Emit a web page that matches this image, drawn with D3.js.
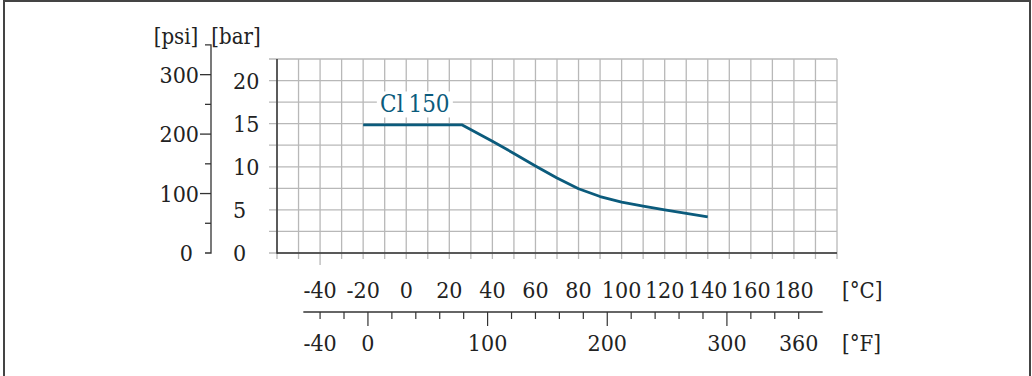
<!DOCTYPE html>
<html><head><meta charset="utf-8">
<script src="https://cdn.jsdelivr.net/npm/d3@7"></script>
<style>
html,body{margin:0;padding:0;background:#fff;}
svg{display:block;}
text{font-family:"DejaVu Serif Condensed","DejaVu Serif",serif;font-stretch:condensed;fill:#222;}
</style></head>
<body>
<svg id="chart" width="1032" height="376"></svg>
<script>
// ---- data ----
const seriesName = "Cl 150";
const tempC = [-20, 26, 40, 50, 60, 70, 80, 90, 100, 110, 120, 130, 140];
const pressureBar = [14.85, 14.85, 12.95, 11.55, 10.1, 8.7, 7.45, 6.55, 5.9, 5.45, 5.0, 4.6, 4.2];
const barTicks = [0, 5, 10, 15, 20];
const psiLabelTicks = [0, 100, 200, 300];
const psiMinorTicks = [50, 150, 250];
const celsiusLabels = [-40, -20, 0, 20, 40, 60, 80, 100, 120, 140, 160, 180];
const fahrenheitLabels = [-40, 0, 100, 200, 300, 360];
const fahrenheitMajor = [0, 100, 200, 300];
const fahrenheitTicks = d3.range(-40, 361, 20);
const gridC = d3.range(-60, 201, 10);
const gridBar = d3.range(0, 22.51, 2.5);

// ---- layout ----
const svg = d3.select("#chart");
const X0 = 277, X1 = 837, Y0 = 253, Y1 = 59;
const col = "#0b5b7c";
const gridCol = "#b8b8b8";
const axisCol = "#333";
const FS = 23;

const xC = d3.scaleLinear().domain([-60, 200]).range([X0, X1]);
const xF = f => xC((f - 32) * 5 / 9);
const yBar = d3.scaleLinear().domain([0, 22.5]).range([Y0, Y1]);
const PSI_PER_BAR = 14.5038;
const yPsi = d3.scaleLinear().domain([0, 22.5 * PSI_PER_BAR]).range([Y0, Y1]);

// outer frame
svg.append("rect").attr("x", 4).attr("y", 1).attr("width", 1026).attr("height", 400)
  .attr("fill", "none").attr("stroke", "#444").attr("stroke-width", 2);

// grid
const g = svg.append("g");
g.selectAll("line.v").data(gridC).join("line")
  .attr("x1", d => xC(d)).attr("x2", d => xC(d))
  .attr("y1", Y1).attr("y2", d => d === -40 ? Y0 + 12 : Y0 + 6)
  .attr("stroke", gridCol).attr("stroke-width", 1.3);
g.selectAll("line.h").data(gridBar).join("line")
  .attr("x1", X0 - 8).attr("x2", X1)
  .attr("y1", d => yBar(d)).attr("y2", d => yBar(d))
  .attr("stroke", gridCol).attr("stroke-width", 1.3);
g.append("line").attr("x1", X0).attr("x2", X0).attr("y1", Y1).attr("y2", Y0 + 0.7)
  .attr("stroke", axisCol).attr("stroke-width", 1.5);
g.append("line").attr("x1", X0).attr("x2", X1).attr("y1", Y0).attr("y2", Y0)
  .attr("stroke", axisCol).attr("stroke-width", 1.5);

// bar labels
svg.selectAll("text.bar").data(barTicks).join("text")
  .attr("x", 233).attr("y", d => yBar(d) + 8.3)
  .attr("font-size", FS)
  .text(d => d);
svg.append("text").attr("x", 236).attr("y", 44).attr("text-anchor", "middle")
  .attr("font-size", 22).text("[bar]");

// psi axis
const psiX = 211;
const psiTop = yPsi(350);
svg.append("path")
  .attr("d", `M${psiX - 6},${psiTop}H${psiX}V${yPsi(0)}H${psiX - 6}`)
  .attr("fill", "none").attr("stroke", axisCol).attr("stroke-width", 1.3);
svg.selectAll("line.psimaj").data(psiLabelTicks.filter(d => d > 0)).join("line")
  .attr("x1", psiX - 11).attr("x2", psiX).attr("y1", d => yPsi(d)).attr("y2", d => yPsi(d))
  .attr("stroke", axisCol).attr("stroke-width", 1.3);
svg.selectAll("line.psimin").data(psiMinorTicks).join("line")
  .attr("x1", psiX - 6).attr("x2", psiX).attr("y1", d => yPsi(d)).attr("y2", d => yPsi(d))
  .attr("stroke", axisCol).attr("stroke-width", 1.3);
svg.selectAll("text.psi").data(psiLabelTicks).join("text")
  .attr("x", d => d === 0 ? psiX - 18 : psiX - 12).attr("y", d => yPsi(d) + 8.3)
  .attr("text-anchor", "end")
  .attr("font-size", FS)
  .text(d => d);
svg.append("text").attr("x", 176).attr("y", 44).attr("text-anchor", "middle")
  .attr("font-size", 22).text("[psi]");

// curve
const pts = tempC.map((t, i) => [t, pressureBar[i]]);
svg.append("path").datum(pts)
  .attr("d", d3.line().x(d => xC(d[0])).y(d => yBar(d[1])).curve(d3.curveLinear))
  .attr("fill", "none").attr("stroke", col).attr("stroke-width", 2.8)
  .attr("stroke-linejoin", "round");

// series label
const lab = svg.append("g").attr("transform", `translate(${xC(4)},${yBar(16.3)})`);
lab.append("rect").attr("x", -38).attr("y", -21).attr("width", 76).attr("height", 26).attr("fill", "#fff");
lab.append("text").attr("text-anchor", "middle").attr("font-size", 24)
  .attr("word-spacing", -2)
  .style("fill", col).text(seriesName);

// Celsius label row
const yCel = 298;
svg.selectAll("text.c").data(celsiusLabels).join("text")
  .attr("x", d => xC(d)).attr("y", yCel).attr("text-anchor", "middle")
  .attr("font-size", FS)
  .text(d => d);
svg.append("text").attr("x", 842).attr("y", yCel).attr("font-size", 22).text("[°C]");

// Fahrenheit axis
const yLine = 312;
svg.append("line").attr("x1", xF(-54)).attr("x2", xF(380)).attr("y1", yLine).attr("y2", yLine)
  .attr("stroke", axisCol).attr("stroke-width", 1.3);
svg.selectAll("line.ft").data(fahrenheitTicks).join("line")
  .attr("x1", d => xF(d)).attr("x2", d => xF(d))
  .attr("y1", yLine).attr("y2", d => fahrenheitMajor.includes(d) ? yLine + 14 : yLine + 7)
  .attr("stroke", axisCol).attr("stroke-width", 1.2);
svg.selectAll("text.f").data(fahrenheitLabels).join("text")
  .attr("x", d => xF(d)).attr("y", 351).attr("text-anchor", "middle")
  .attr("font-size", FS)
  .text(d => d);
svg.append("text").attr("x", 842).attr("y", 351).attr("font-size", 22).text("[°F]");
</script>
</body></html>
